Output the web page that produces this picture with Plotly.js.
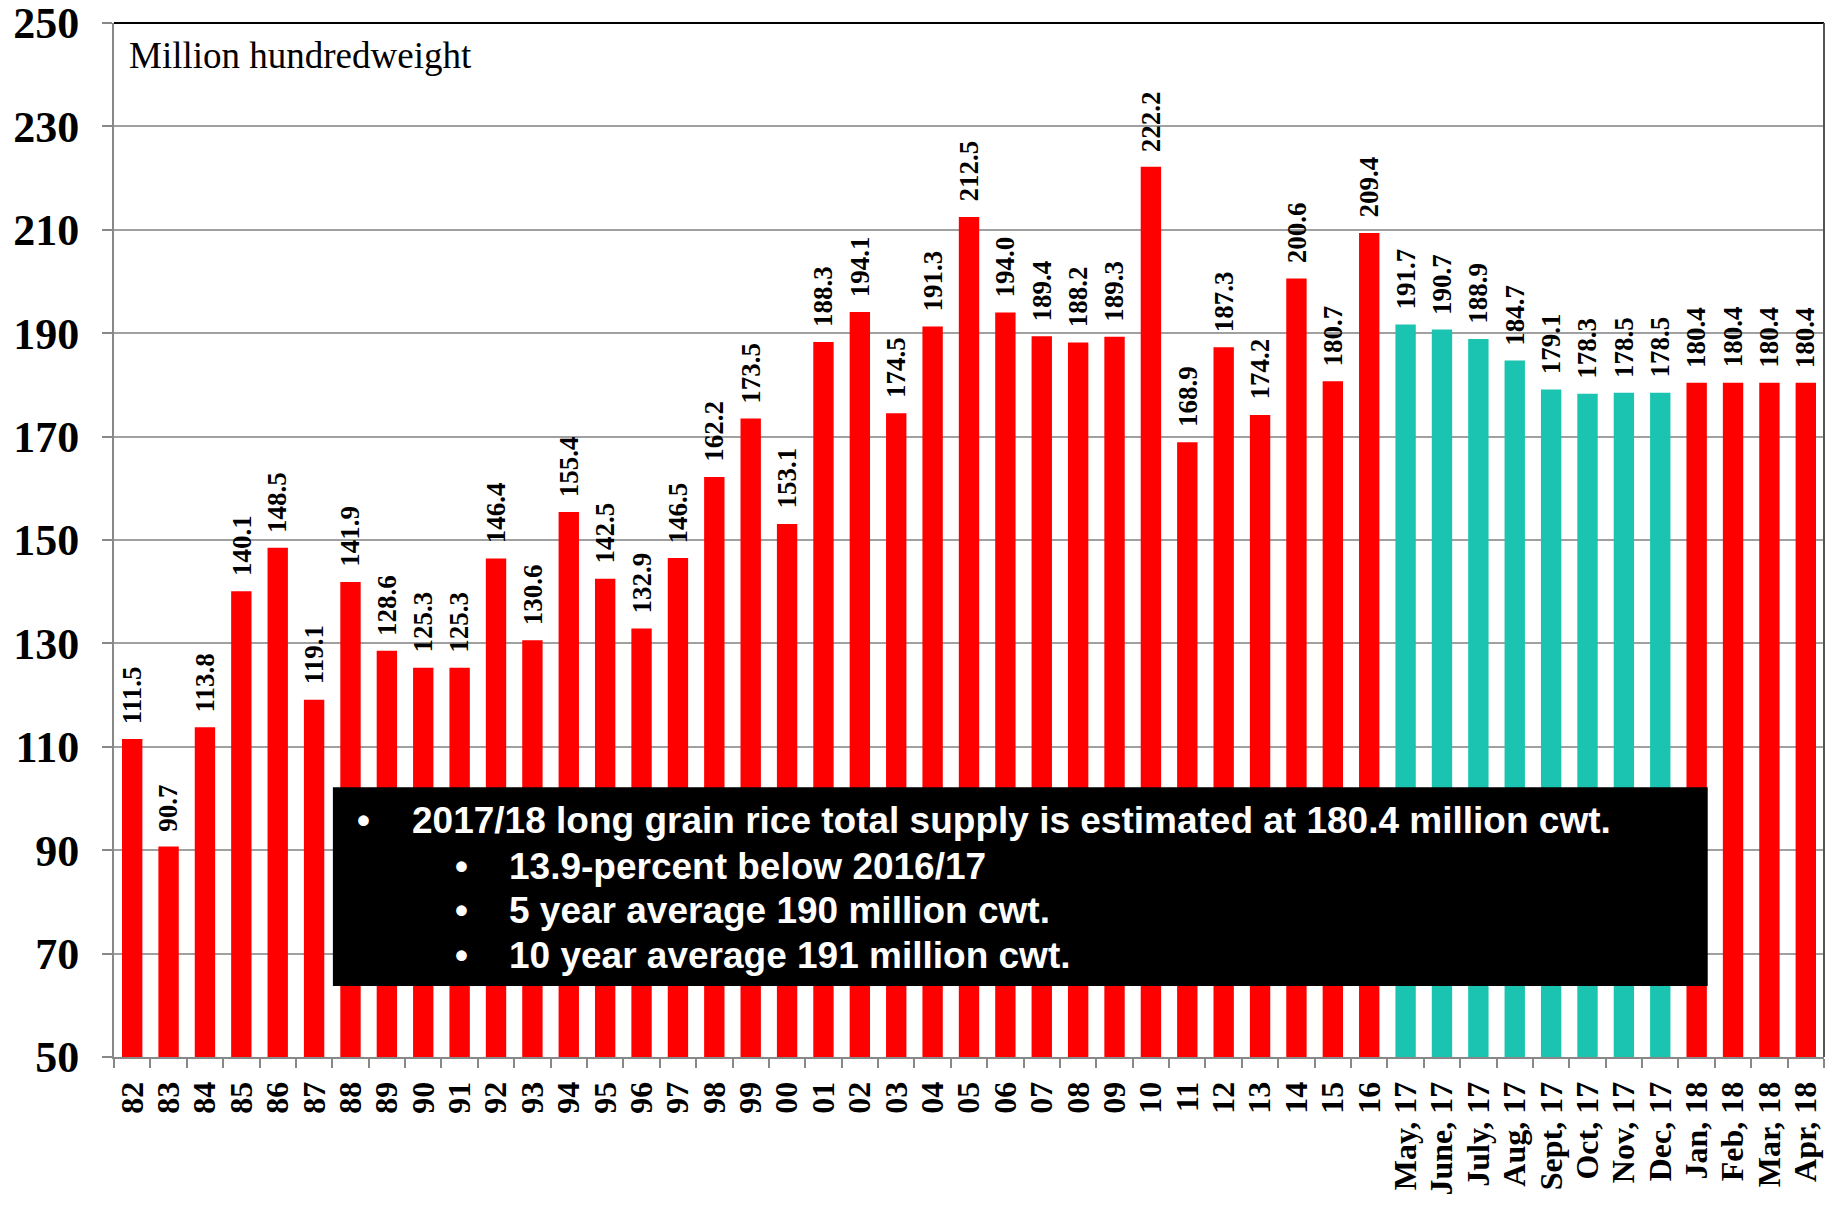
<!DOCTYPE html>
<html>
<head>
<meta charset="utf-8">
<script src="https://cdn.plot.ly/plotly-3.0.1.min.js"></script>
<style>html,body{margin:0;padding:0;background:#fff;}#chart{width:1839px;height:1208px;}</style>
</head>
<body>
<div id="chart"></div>
<script>
const categories = ["82","83","84","85","86","87","88","89","90","91","92","93","94","95","96","97","98","99","00","01","02","03","04","05","06","07","08","09","10","11","12","13","14","15","16",
  "May, 17","June, 17","July, 17","Aug, 17","Sept, 17","Oct, 17","Nov, 17","Dec, 17","Jan, 18","Feb, 18","Mar, 18","Apr, 18"];
const supply = [111.5,90.7,113.8,140.1,148.5,119.1,141.9,128.6,125.3,125.3,146.4,130.6,155.4,142.5,132.9,146.5,162.2,173.5,153.1,188.3,194.1,174.5,191.3,212.5,194.0,189.4,188.2,189.3,222.2,168.9,187.3,174.2,200.6,180.7,209.4,
  191.7,190.7,188.9,184.7,179.1,178.3,178.5,178.5,180.4,180.4,180.4,180.4];
const unitLabel = "Million hundredweight";
const boxLines = [
  "2017/18 long grain rice total supply is estimated at 180.4 million cwt.",
  "13.9-percent below 2016/17",
  "5 year average 190 million cwt.",
  "10 year average 191 million cwt."
];

const RED = "#FF0000", TEAL = "#1AC4B0";
const colors = categories.map(c => c.indexOf(", 17") >= 0 ? TEAL : RED);
const serif = "Liberation Serif";

const trace = {
  type: "bar", x: categories, y: supply,
  marker: {color: colors, line: {width: 0}},
  hoverinfo: "x+y"
};

const annotations = categories.map((c, i) => ({
  x: i, y: supply[i], xref: "x", yref: "y",
  text: supply[i].toFixed(1),
  textangle: -90, showarrow: false, xanchor: "center", yanchor: "bottom",
  yshift: 14, borderpad: 0,
  font: {family: serif, size: 27, color: "#000", weight: "bold"}
}));

annotations.push({
  xref: "paper", yref: "paper", x: 0.0076, y: 0.969, xanchor: "left", yanchor: "middle",
  text: unitLabel, showarrow: false,
  font: {family: serif, size: 37, color: "#000"}
});

const boxFont = {family: "Liberation Sans", size: 37, color: "#fff", weight: "bold"};
const lineY = [0.229, 0.1847, 0.142, 0.0986];
boxLines.forEach((t, i) => {
  const sub = i > 0;
  annotations.push({xref: "paper", yref: "paper", x: sub ? 0.198 : 0.141, y: lineY[i], xanchor: "left", yanchor: "middle",
    text: "•", showarrow: false, font: boxFont});
  annotations.push({xref: "paper", yref: "paper", x: sub ? 0.230 : 0.173, y: lineY[i], xanchor: "left", yanchor: "middle",
    text: t, showarrow: false, font: boxFont});
});

const layout = {
  width: 1839, height: 1208,
  margin: {l: 114, r: 15, t: 23, b: 151},
  paper_bgcolor: "#fff", plot_bgcolor: "#fff",
  showlegend: false,
  bargap: 0.44,
  xaxis: {
    type: "category", range: [-0.5, categories.length - 0.5], tickmode: "linear", dtick: 1,
    tickangle: -90, ticks: "outside", ticklen: 9, tickcolor: "#888", tickwidth: 2,
    tickson: "boundaries", showline: true, linecolor: "#888", linewidth: 2,
    showgrid: false, ticklabelstandoff: 10, ticklabeloverflow: "allow",
    tickfont: {family: serif, size: 32, color: "#000", weight: "bold"}
  },
  yaxis: {
    range: [50, 250], dtick: 20, tick0: 50, ticks: "outside", ticklen: 10, tickcolor: "#888", tickwidth: 2,
    showline: true, linecolor: "#888", linewidth: 2, showgrid: true, gridcolor: "#A0A0A0", gridwidth: 2,
    zeroline: false, ticklabelstandoff: 14, ticklabeloverflow: "allow",
    tickfont: {family: serif, size: 44, color: "#000", weight: "bold"}
  },
  shapes: [
    {type: "rect", xref: "paper", yref: "paper", x0: 0.128, x1: 0.932, y0: 0.0687, y1: 0.261,
     fillcolor: "#000", line: {width: 0}, layer: "above"},
    {type: "line", xref: "paper", yref: "paper", x0: 0, x1: 1, y0: 1, y1: 1, line: {color: "#000", width: 2}},
    {type: "line", xref: "paper", yref: "paper", x0: 1, x1: 1, y0: 0, y1: 1, line: {color: "#555", width: 2}}
  ],
  annotations: annotations
};

Plotly.newPlot("chart", [trace], layout, {displayModeBar: false, staticPlot: true});
</script>
</body>
</html>
